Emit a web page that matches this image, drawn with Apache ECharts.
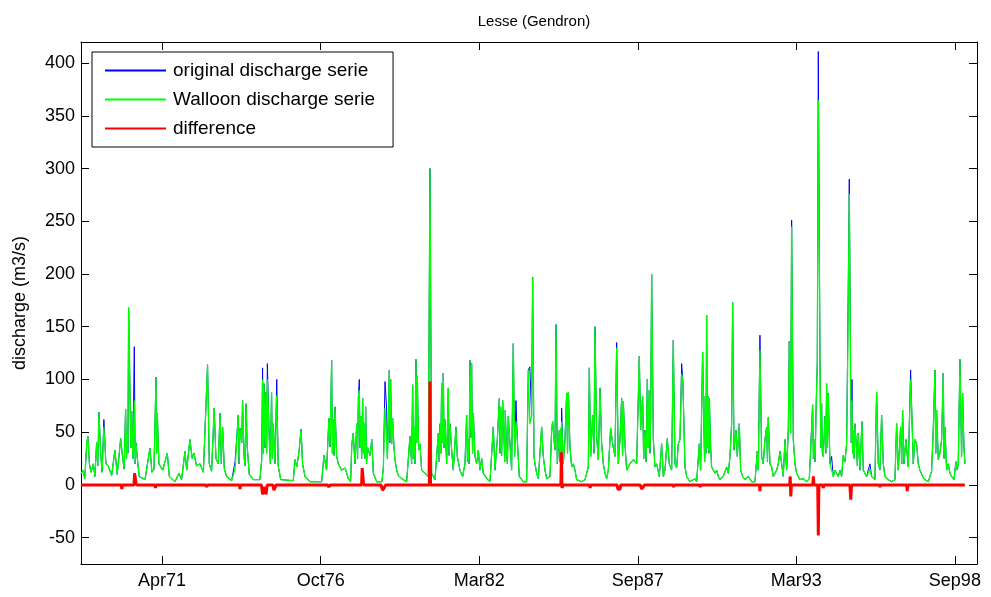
<!DOCTYPE html>
<html>
<head>
<meta charset="utf-8">
<script src="https://cdn.jsdelivr.net/npm/echarts@6/dist/echarts.min.js"></script>
<style>html,body{margin:0;padding:0;background:#fff}#chart{width:991px;height:597px}</style>
</head>
<body>
<div id="chart"></div>
<script>
// ---- data (decimal years) ----
const dates = [
1968.49,1968.55,1968.62,1968.69,1968.73,1968.78,1968.835,1968.915,1968.97,1969.03,
1969.11,1969.17,1969.28,1969.35,1969.43,1969.55,1969.66,1969.74,1969.86,1969.93,
1970.03,1970.09,1970.135,1970.18,1970.24,1970.33,1970.39,1970.435,1970.5,1970.7,
1970.87,1970.94,1971.01,1971.08,1971.125,1971.18,1971.31,1971.47,1971.54,1971.735,
1971.87,1971.965,1972.08,1972.14,1972.25,1972.33,1972.39,1972.48,1972.6,1972.715,
1972.86,1972.92,1973.0,1973.09,1973.15,1973.23,1973.29,1973.38,1973.44,1973.52,
1973.69,1973.81,1973.92,1973.98,1974.04,1974.07,1974.12,1974.19,1974.23,1974.3,
1974.44,1974.67,1974.73,1974.76,1974.81,1974.88,1974.925,1974.99,1975.07,1975.13,
1975.19,1975.25,1975.3,1975.385,1975.82,1975.88,1975.94,1976.02,1976.09,1976.14,
1976.225,1976.4,1976.8,1976.88,1976.97,1977.05,1977.09,1977.145,1977.2,1977.26,
1977.32,1977.375,1977.49,1977.61,1977.72,1977.8,1977.84,1977.89,1977.95,1978.01,
1978.07,1978.1,1978.15,1978.215,1978.26,1978.32,1978.38,1978.47,1978.53,1978.585,
1978.7,1978.88,1978.93,1978.987,1979.044,1979.1,1979.136,1979.182,1979.217,1979.251,
1979.297,1979.332,1979.39,1979.447,1979.562,1979.735,1979.85,1979.907,1979.942,1979.988,
1980.057,1980.103,1980.149,1980.195,1980.253,1980.368,1980.483,1980.54,1980.598,1980.713,
1980.828,1980.886,1980.943,1981.0,1981.058,1981.116,1981.174,1981.231,1981.289,1981.346,
1981.438,1981.484,1981.576,1981.668,1981.749,1981.807,1981.864,1981.922,1981.979,1982.037,
1982.094,1982.152,1982.21,1982.267,1982.325,1982.382,1982.497,1982.612,1982.727,1982.785,
1982.866,1982.935,1982.981,1983.05,1983.096,1983.142,1983.188,1983.245,1983.303,1983.36,
1983.418,1983.464,1983.51,1983.556,1983.625,1983.763,1983.878,1983.936,1983.99,1984.05,
1984.086,1984.132,1984.167,1984.224,1984.282,1984.397,1984.454,1984.512,1984.57,1984.685,
1984.742,1984.777,1984.823,1984.857,1984.892,1984.938,1985.007,1985.053,1985.087,1985.145,
1985.202,1985.26,1985.318,1985.375,1985.433,1985.49,1985.548,1985.605,1985.778,1985.893,
1985.951,1986.008,1986.043,1986.089,1986.158,1986.204,1986.238,1986.296,1986.354,1986.411,
1986.469,1986.526,1986.584,1986.641,1986.699,1986.779,1986.848,1986.929,1986.987,1987.044,
1987.102,1987.159,1987.217,1987.274,1987.332,1987.447,1987.562,1987.677,1987.769,1987.815,
1987.884,1987.965,1988.046,1988.115,1988.161,1988.195,1988.253,1988.31,1988.368,1988.46,
1988.54,1988.598,1988.655,1988.736,1988.805,1988.886,1988.943,1989.001,1989.058,1989.116,
1989.174,1989.231,1989.27,1989.3,1989.346,1989.403,1989.518,1989.691,1989.749,1989.841,
1989.887,1989.956,1990.002,1990.048,1990.094,1990.151,1990.186,1990.232,1990.266,1990.324,
1990.381,1990.439,1990.497,1990.554,1990.669,1990.784,1990.842,1990.9,1990.957,1990.992,
1991.038,1991.107,1991.153,1991.222,1991.268,1991.337,1991.417,1991.533,1991.648,1991.763,
1991.843,1991.878,1991.935,1991.993,1992.05,1992.108,1992.166,1992.223,1992.281,1992.338,
1992.396,1992.511,1992.568,1992.626,1992.684,1992.741,1992.799,1992.856,1992.914,1992.948,
1992.994,1993.029,1993.086,1993.144,1993.202,1993.317,1993.432,1993.547,1993.639,1993.685,
1993.754,1993.812,1993.869,1993.915,1993.95,1994.007,1994.065,1994.122,1994.18,1994.237,
1994.295,1994.353,1994.41,1994.467,1994.525,1994.582,1994.64,1994.697,1994.755,1994.812,
1994.87,1994.928,1994.962,1995.02,1995.066,1995.112,1995.158,1995.215,1995.273,1995.33,
1995.388,1995.457,1995.503,1995.618,1995.733,1995.791,1995.906,1995.963,1996.021,1996.079,
1996.136,1996.194,1996.251,1996.366,1996.481,1996.597,1996.654,1996.712,1996.792,1996.861,
1996.907,1996.976,1997.057,1997.137,1997.183,1997.229,1997.287,1997.345,1997.402,1997.46,
1997.552,1997.632,1997.747,1997.862,1997.92,1997.977,1998.035,1998.093,1998.15,1998.208,
1998.265,1998.323,1998.381,1998.438,1998.496,1998.553,1998.634,1998.703,1998.749,1998.783,
1998.841,1998.898,1998.933,1998.979,1999.013
];
const original = [
10,14,6,40,46,20,12,20,8,40,
69,30,62,20,18,9,33,10,44,25,
72,50,168,90,70,131,40,25,8,5,
35,12,15,102,68,20,14,30,8,3,
11,5,32,14,43,25,30,18,20,12,
114,20,13,73,25,20,68,55,15,8,
4,22,66,54,40,80,27,77,36,10,
5,5,24,111,96,88,115,43,88,58,
20,100,18,5,4,24,17,32,53,20,
8,3,3,28,14,63,36,118,62,74,
27,20,14,16,6,3,38,49,20,58,
84,100,65,82,58,74,36,28,43,11,
3,3,16,98,73,55,109,100,39,63,
36,24,14,9,6,3,46,20,95,55,
119,103,33,39,14,11,8,300,11,5,
49,58,96,106,62,20,92,58,33,14,
55,27,14,8,20,66,43,118,115,68,
27,20,33,14,25,11,6,3,55,14,
43,82,74,80,46,71,27,65,39,14,
134,27,80,43,8,3,3,109,112,65,
197,27,20,11,6,55,27,14,6,8,
52,60,43,33,152,20,52,54,73,20,
43,87,88,36,17,20,14,5,3,5,
11,17,111,27,66,30,150,46,24,92,
39,20,11,6,14,54,39,27,135,20,
43,82,79,39,14,20,24,20,122,52,
84,52,100,90,65,200,43,17,20,8,
39,8,14,44,20,14,137,20,16,39,
43,115,100,68,17,8,3,6,3,39,
14,126,52,84,161,84,82,36,17,14,
11,14,8,5,8,17,11,27,58,173,
33,52,27,58,14,8,5,8,3,3,
32,14,142,27,20,43,55,64,20,17,
8,14,20,32,20,8,43,14,52,136,
49,251,43,20,11,5,6,3,6,33,
76,43,68,115,411,122,77,27,65,96,
87,20,27,8,14,11,8,14,8,28,
22,39,126,290,100,100,52,58,33,49,
14,60,14,8,20,8,5,88,20,14,
66,20,8,5,3,5,58,14,55,71,
20,43,17,109,65,20,43,39,20,14,
8,5,3,13,52,109,71,24,30,43,
106,55,14,20,11,8,5,22,14,20,
119,27,87,36,20
];
const walloon = [
10,14,6,40,46,20,12,20,8,40,
69,30,55,20,18,9,33,10,44,25,
72,50,168,90,70,80,40,25,8,5,
35,12,15,102,68,20,14,30,8,3,
11,5,32,14,43,25,30,18,20,12,
114,20,13,73,25,20,68,55,15,8,
4,15,66,54,40,80,27,77,36,10,
5,5,24,100,96,88,100,43,88,58,
20,85,18,5,4,24,17,32,53,20,
8,3,3,28,14,63,36,118,62,74,
27,20,14,16,6,3,38,49,20,58,
84,90,65,82,58,74,36,28,43,11,
3,3,16,73,73,55,109,100,39,63,
36,24,14,9,6,3,46,20,95,55,
119,103,33,39,14,11,8,300,11,5,
49,58,96,106,62,20,92,58,33,14,
55,27,14,8,20,66,43,118,115,68,
27,20,33,14,25,11,6,3,55,14,
43,82,74,80,46,71,27,65,39,14,
134,27,60,43,8,3,3,109,58,65,
197,27,20,11,6,55,27,14,6,8,
52,60,43,33,152,20,52,54,60,20,
43,87,88,36,17,20,14,5,3,5,
11,17,111,27,66,30,150,46,24,92,
39,20,11,6,14,54,39,27,130,20,
43,82,79,39,14,20,24,20,122,52,
84,52,100,90,65,200,43,17,20,8,
39,8,14,44,20,14,137,20,16,39,
43,105,100,68,17,8,3,6,3,39,
14,126,52,84,161,84,82,36,17,14,
11,14,8,5,8,17,11,27,58,173,
33,52,27,58,14,8,5,8,3,3,
32,14,128,27,20,43,55,64,20,17,
8,14,20,32,20,8,43,14,52,136,
49,245,43,20,11,5,6,3,6,33,
76,43,68,115,365,122,77,27,65,96,
87,20,14,8,14,11,8,14,8,28,
22,39,110,276,100,80,52,58,33,49,
14,60,14,8,15,8,5,88,20,14,
66,20,8,5,3,5,58,14,55,71,
20,43,17,100,65,20,43,39,20,14,
8,5,3,13,52,109,71,24,30,43,
106,55,14,20,11,8,5,22,14,20,
119,27,87,36,20
];
// dips between flood peaks (same in both discharge series)
const dipDates = [
1969.07,1969.22,1969.98,1970.06,1970.11,1970.21,1970.28,1970.36,1971.10,1973.335,
1973.95,1974.155,1974.785,1974.845,1974.90,1975.03,1975.10,1977.17,1977.23,1978.04,
1978.125,1978.18,1978.24,1978.29,1978.35,1979.07,1979.16,1979.965,1980.02,1980.08,
1980.86,1980.915,1980.97,1981.03,1981.2,1981.835,1981.89,1981.95,1982.01,1982.96,
1983.015,1983.12,1983.215,1985.03,1985.07,1985.29,1987.19,1987.92,1988.005,1988.08,
1988.14,1990.025,1990.07,1990.12,1990.17,1992.195,1993.78,1993.84,1994.035,1994.09,
1994.21,1994.265,1995.09,1995.135,1995.19,1995.30,1996.83,1998.005,1998.295
];
const dipValues = [
18,12,15,25,30,35,25,20,30,20,
20,18,30,35,30,20,25,30,28,25,
35,25,30,25,20,25,40,25,20,40,
22,30,40,35,28,22,20,45,30,30,
28,22,20,22,25,30,28,25,22,35,
30,22,30,35,30,22,25,22,35,30,
30,35,40,30,25,18,20,30,25
];
const diffDates = [
1968.49,1969.88,1969.9,1969.92,1970.32,1970.34,1970.38,1970.4,1971.04,1971.06,1971.08,
1972.8,1972.83,1972.86,1973.96,1973.98,1974.0,1974.72,1974.76,1974.8,1974.88,1974.92,
1975.12,1975.15,1975.2,1975.23,1977.0,1977.05,1977.1,1978.18,1978.2,1978.23,1978.25,
1978.85,1978.9,1978.96,1979.0,1980.52,1980.54,1980.56,1985.06,1985.08,1985.1,1985.14,
1986.05,1986.07,1986.09,1987.0,1987.03,1987.1,1987.13,1987.8,1987.85,1987.9,1987.95,
1988.93,1988.95,1988.97,1989.85,1989.87,1989.89,1991.92,1991.935,1991.95,
1992.96,1992.98,1993.0,1993.02,1993.76,1993.78,1993.8,1993.93,1993.95,1993.97,
1994.1,1994.12,1994.14,1995.04,1995.07,1995.1,1996.06,1996.08,1996.1,
1997.0,1997.02,1997.04,1999.01
];
const difference = [
0,0,-4,0,0,11,11,0,0,-3,0,
0,-2,0,0,-4,0,0,-9,-2,-9,0,
0,-5,-5,0,0,-2,0,0,16,16,0,
0,-5,-3,0,0,98,0,0,31,-3,0,
0,-3,0,0,-4,-4,0,0,-4,-3,0,
0,-2,0,0,-2,0,0,-6,0,
0,8,-11,0,0,8,0,0,-48,0,
0,-3,0,0,-14,0,0,-2,0,
0,-6,0,0
];
const tickDates = ['1971-04-16','1976-10-07','1982-03-31','1987-09-20','1993-03-12','1998-09-01'];
const tickLabels = ['Apr71','Oct76','Mar82','Sep87','Mar93','Sep98'];
const yTicks = [-50,0,50,100,150,200,250,300,350,400];

// ---- helpers ----
function decYear(s){
  const d = new Date(s + 'T00:00:00Z');
  const y = d.getUTCFullYear();
  const a = Date.UTC(y,0,1), b = Date.UTC(y+1,0,1);
  return y + (d.getTime() - a) / (b - a);
}
const tickVals = tickDates.map(decYear);
function labelFor(v){
  let best = 0;
  for (let i = 1; i < tickVals.length; i++) if (Math.abs(tickVals[i]-v) < Math.abs(tickVals[best]-v)) best = i;
  return tickLabels[best];
}
const pair = (xs, ys) => xs.map((x,i) => [x, ys[i]]);
function withDips(vals){
  return pair(dates, vals).concat(pair(dipDates, dipValues)).sort((a,b) => a[0]-b[0]);
}

const FONT = 'Liberation Sans, Arial, Helvetica, sans-serif';
const XMIN = 1968.49, XMAX = 1999.43, YMIN = -75, YMAX = 420;

const chart = echarts.init(document.getElementById('chart'), null, {renderer:'canvas'});
const axisLine = {show:true, onZero:false, lineStyle:{color:'#000', width:1}};
chart.setOption({
  animation:false,
  backgroundColor:'#fff',
  title:{text:'Lesse (Gendron)', left:529, top:9, textAlign:'center',
    textStyle:{fontFamily:FONT, fontSize:15, fontWeight:'normal', color:'#000'}},
  grid:{left:81, top:42, right:14, bottom:33, containLabel:false},
  legend:{
    orient:'vertical', left:92, top:52, padding:[9,18,9,12],
    itemWidth:61, itemHeight:14, itemGap:10,
    borderColor:'#000', borderWidth:1, backgroundColor:'#fff',
    itemStyle:{opacity:0},
    textStyle:{fontFamily:FONT, fontSize:19, color:'#000', lineHeight:18, padding:[0,0,0,2]},
    data:['original discharge serie','Walloon discharge serie','difference']
  },
  xAxis:[{
    type:'value', min:XMIN, max:XMAX, position:'bottom',
    axisLine:axisLine, splitLine:{show:false},
    axisTick:{show:true, inside:true, length:8, lineStyle:{color:'#000'}, customValues:tickVals},
    axisLabel:{show:true, margin:8, color:'#000', fontFamily:FONT, fontSize:18, customValues:tickVals, formatter:labelFor}
  },{
    type:'value', min:XMIN, max:XMAX, position:'top',
    axisLine:axisLine, splitLine:{show:false},
    axisTick:{show:true, inside:true, length:8, lineStyle:{color:'#000'}, customValues:tickVals},
    axisLabel:{show:false}
  }],
  yAxis:[{
    type:'value', min:YMIN, max:YMAX, position:'left',
    name:'discharge (m3/s)', nameLocation:'middle', nameGap:52, nameRotate:90,
    nameTextStyle:{fontFamily:FONT, fontSize:18, color:'#000'},
    axisLine:axisLine, splitLine:{show:false},
    axisTick:{show:true, inside:true, length:8, lineStyle:{color:'#000'}, customValues:yTicks},
    axisLabel:{show:true, margin:6, color:'#000', fontFamily:FONT, fontSize:18, customValues:yTicks}
  },{
    type:'value', min:YMIN, max:YMAX, position:'right',
    axisLine:axisLine, splitLine:{show:false},
    axisTick:{show:true, inside:true, length:8, lineStyle:{color:'#000'}, customValues:yTicks},
    axisLabel:{show:false}
  }],
  series:[
    {name:'original discharge serie', type:'line', xAxisIndex:0, yAxisIndex:0, symbol:'none',
      data:withDips(original), lineStyle:{color:'#0000ff', width:1}, itemStyle:{color:'#0000ff'}, z:2},
    {name:'Walloon discharge serie', type:'line', xAxisIndex:0, yAxisIndex:0, symbol:'none',
      data:withDips(walloon), lineStyle:{color:'#00ff00', width:1.3}, itemStyle:{color:'#00ff00'}, z:3},
    {name:'difference', type:'line', xAxisIndex:0, yAxisIndex:0, symbol:'none',
      data:pair(diffDates, difference), lineStyle:{color:'#ff0000', width:3}, itemStyle:{color:'#ff0000'}, z:4}
  ]
});
</script>
</body>
</html>
